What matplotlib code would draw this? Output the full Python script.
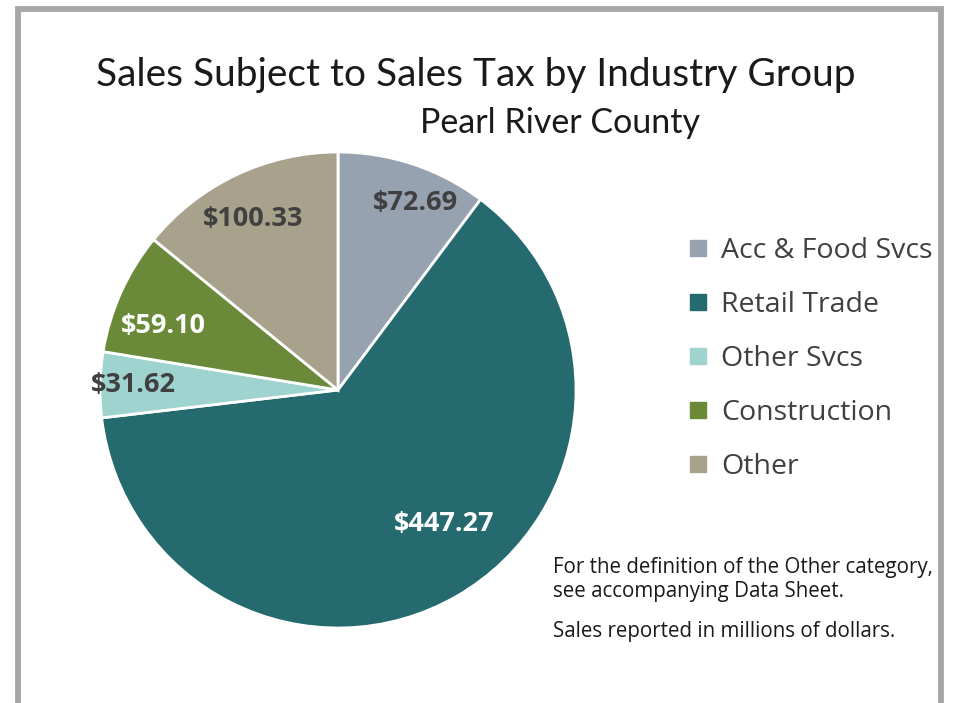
import matplotlib
matplotlib.use("Agg")
import matplotlib.pyplot as plt
from matplotlib.patches import Rectangle
from matplotlib.lines import Line2D
import numpy as np

categories = ["Acc & Food Svcs", "Retail Trade", "Other Svcs", "Construction", "Other"]
values = [72.69, 447.27, 31.62, 59.10, 100.33]
value_labels = ["$72.69", "$447.27", "$31.62", "$59.10", "$100.33"]
colors = ["#97A2B1", "#246A6E", "#9FD3CF", "#6A8A3A", "#A8A28C"]
label_colors = ["#404040", "#FFFFFF", "#404040", "#FFFFFF", "#404040"]
label_radius = [0.85, 0.72, 0.86, 0.78, 0.80]
label_angle_shift = [-4, 8.5, 0, 4, 1]

title = "Sales Subject to Sales Tax by Industry Group"
subtitle = "Pearl River County"
note1 = "For the definition of the Other category,\nsee accompanying Data Sheet."
note2 = "Sales reported in millions of dollars."

W, H = 957, 703
fig = plt.figure(figsize=(W / 100, H / 100), dpi=100)
fig.patch.set_facecolor("white")

font = ["Lato", "DejaVu Sans"]
font2 = ["Open Sans", "DejaVu Sans"]

# border
fig.patches.append(Rectangle((17.5 / W, -10 / H), (940.5 - 17.5) / W, (H - 9 + 10) / H,
                             transform=fig.transFigure, fill=False,
                             edgecolor="#A6A6A6", linewidth=4.2))

# pie axes
cx, cy, r = 338, 390, 238
ax = fig.add_axes([(cx - r) / W, (H - cy - r) / H, 2 * r / W, 2 * r / H])
wedges, _ = ax.pie(values, colors=colors, startangle=90, counterclock=False,
                   wedgeprops=dict(edgecolor="white", linewidth=2), radius=1)
ax.set_xlim(-1, 1)
ax.set_ylim(-1, 1)
ax.set_aspect("equal")
ax.axis("off")

for w, lab, lc, rr, sh in zip(wedges, value_labels, label_colors, label_radius, label_angle_shift):
    ang = np.deg2rad((w.theta1 + w.theta2) / 2 + sh)
    ax.text(rr * np.cos(ang), rr * np.sin(ang), lab, ha="center", va="center",
            fontsize=19.5, fontweight="bold", color=lc, family=font2)

fig.text(476 / W, 1 - 75 / H, title, ha="center", va="center", fontsize=28,
         color="#1a1a1a", family=font)
fig.text(560 / W, 1 - 123 / H, subtitle, ha="center", va="center", fontsize=24.5,
         color="#1a1a1a", family=font)

handles = [Line2D([0], [0], marker="s", linestyle="none", markersize=12,
                  markerfacecolor=c, markeredgecolor=c) for c in colors]
leg = fig.legend(handles, categories, loc="upper left",
                 bbox_to_anchor=(657 / W, 1 - 211 / H), frameon=False,
                 prop=dict(family=font2, size=20.5), labelspacing=0.92,
                 handletextpad=0.25, handlelength=1.1, labelcolor="#404040")

fig.text(553 / W, 1 - 567 / H, note1.split("\n")[0], ha="left", va="center", fontsize=14.8,
         color="#1a1a1a", family=font2)
fig.text(553 / W, 1 - 592 / H, note1.split("\n")[1], ha="left", va="center", fontsize=14.8,
         color="#1a1a1a", family=font2)
fig.text(553 / W, 1 - 632 / H, note2, ha="left", va="center", fontsize=14.8,
         color="#1a1a1a", family=font2)

fig.savefig("out.png", dpi=100, facecolor="white")
